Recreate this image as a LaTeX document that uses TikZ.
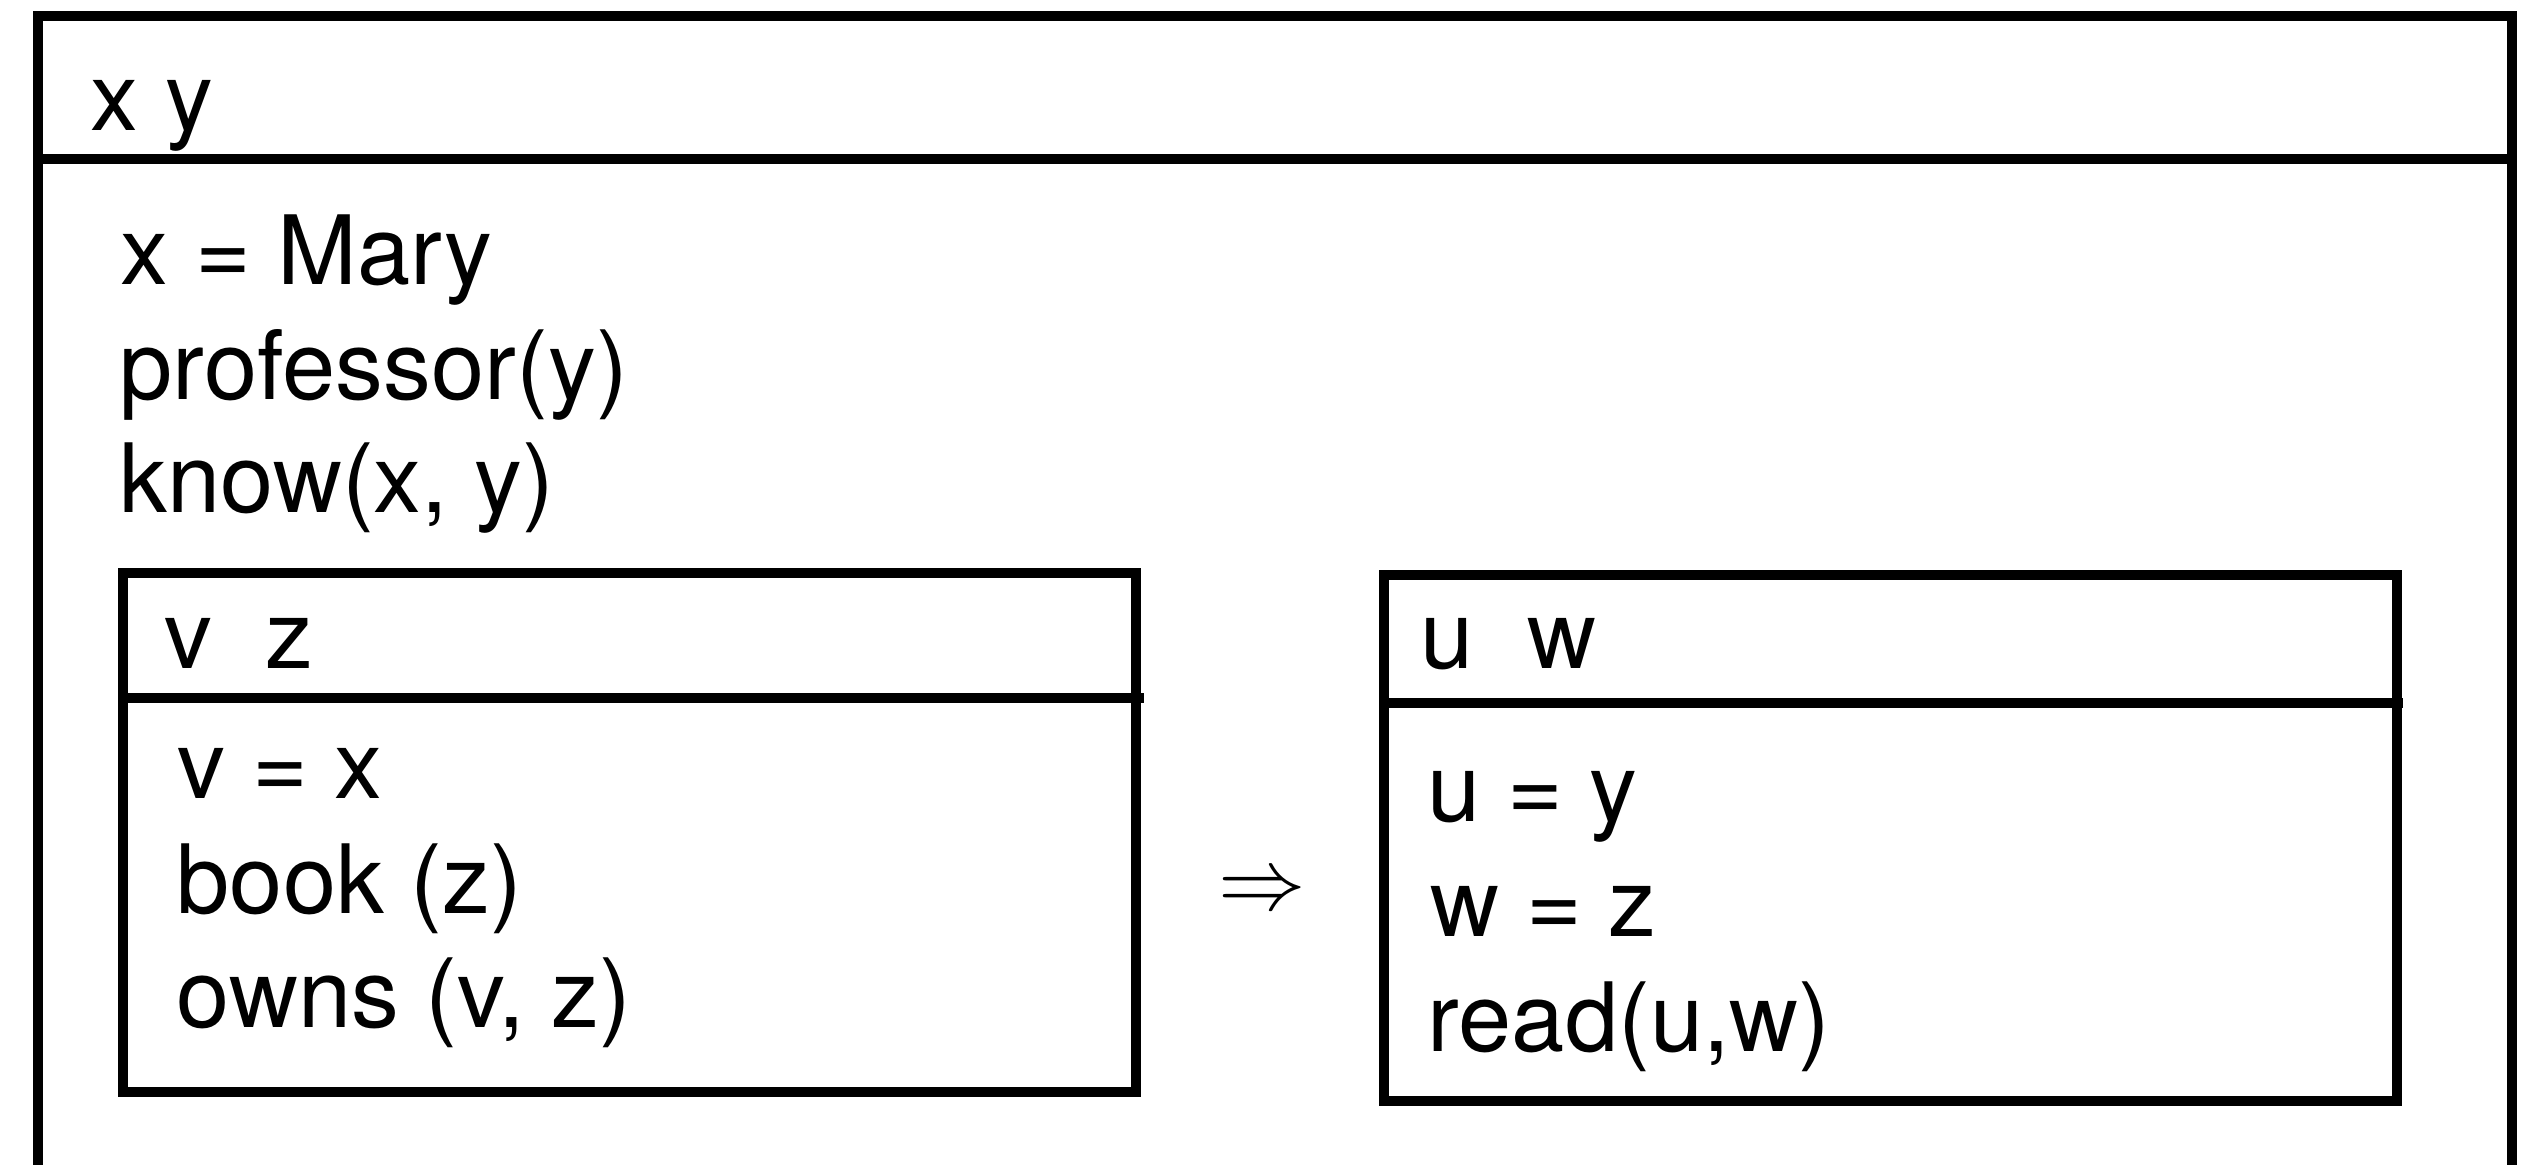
\documentclass[tikz,border=0pt]{standalone}
\usepackage{fontspec}
\setmainfont{TeX Gyre Heros}
\begin{document}
\begin{tikzpicture}[x=0.01cm,y=-0.01cm,
  frame/.style={line width=0.1cm, line join=miter, line cap=butt},
  txt/.style={anchor=base west, inner sep=0pt, font=\fontsize{27.2pt}{33pt}\selectfont},
  implies/.style={anchor=center, inner sep=0pt, font=\fontsize{23pt}{27pt}\selectfont}]
\useasboundingbox (0,0) rectangle (2541,1165);
\clip (0,0) rectangle (2541,1165);

% outer box, open at the bottom, with its header
\draw[frame] (38,1200) -- (38,16) -- (2512,16) -- (2512,1200);
\draw[frame] (38,159) -- (2512,159);
\node[txt] (hdr) at (90,131) {x y};
\node[txt] (c1) at (120,285) {x = Mary};
\node[txt] (c2) at (119,400) {professor(y)};
\node[txt] (c3) at (119,513) {know(x, y)};

% antecedent box
\draw[frame] (123,573) rectangle (1136,1092);
\draw[frame] (123,698) -- (1144,698);
\node[txt] (lhdr) at (164,669) {v\ \ z};
\node[txt] (l1) at (177,799) {v = x};
\node[txt] (l2) at (176,914) {book (z)};
\node[txt] (l3) at (176,1028) {owns (v, z)};

% implication sign
\node[implies] (imp) at (1262,893) {$\Rightarrow$};

% consequent box
\draw[frame] (1384,575) rectangle (2397,1101);
\draw[frame] (1384,703) -- (2403,703);
\node[txt] (rhdr) at (1420,669) {u\ \ w};
\node[txt] (r1) at (1427,822) {u = y};
\node[txt] (r2) at (1430,937) {w = z};
\node[txt] (r3) at (1427,1052) {read(u,w)};
\end{tikzpicture}
\end{document}
